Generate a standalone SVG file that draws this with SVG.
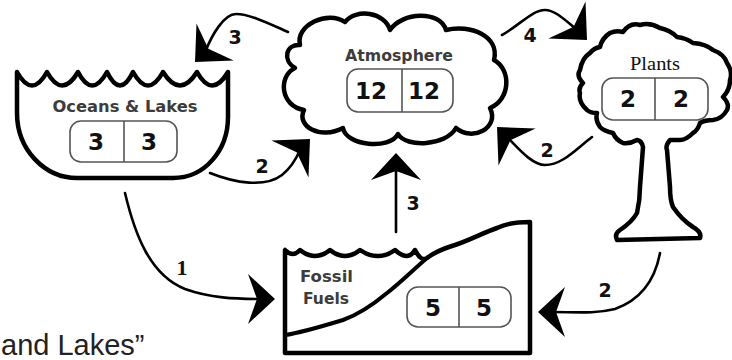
<svg xmlns="http://www.w3.org/2000/svg" width="732" height="360" viewBox="0 0 732 360">
  <style>
    .outline { fill: #fff; stroke: #000; stroke-width: 4.5; stroke-linejoin: round; stroke-linecap: round; }
    .inner { fill: none; stroke: #000; stroke-width: 4; stroke-linecap: round; stroke-linejoin: round; }
    .cell { fill: #fff; stroke: #555; stroke-width: 1.6; }
    .div { stroke: #555; stroke-width: 1.6; }
    .name { font-family: "DejaVu Sans", "Liberation Sans", sans-serif; font-weight: bold; fill: #3c3c3c; }
    .num { font-family: "DejaVu Sans", "Liberation Sans", sans-serif; font-weight: bold; font-size: 23px; fill: #111; text-anchor: middle; }
    .flow { fill: none; stroke: #000; stroke-width: 2.6; stroke-linecap: round; }
    .head { fill: #000; }
    .lbl { font-family: "DejaVu Sans", "Liberation Sans", sans-serif; font-weight: bold; font-size: 19px; fill: #111; text-anchor: middle; }
  </style>
  <defs>
    <path id="arrowhead" d="M0,0 L-27,-25 L-18,0 L-27,25 Z"/>
  </defs>

  <rect width="732" height="360" fill="#fff"/>

  <!-- Oceans & Lakes: a bowl with a wavy water line -->
  <g id="oceans">
    <path class="outline" d="M17,72 L17,113 C17,150 45,178 77,178 L173,178 C205,178 228,150 228,117 L228,72 Q212,99 197,72 Q180,99 163,72 Q148,99 133,72 Q120,99 107,72 Q92,99 78,72 Q62,99 47,72 Q32,99 17,72 Z"/>
    <text class="name" x="125" y="112" font-size="15" text-anchor="middle" textLength="145" lengthAdjust="spacingAndGlyphs">Oceans &amp; Lakes</text>
    <rect class="cell" x="70" y="121" width="107" height="41" rx="11"/>
    <line class="div" x1="124" y1="121" x2="124" y2="162"/>
    <text class="num" x="96" y="150">3</text>
    <text class="num" x="149" y="150">3</text>
  </g>

  <!-- Atmosphere: cloud -->
  <g id="atmosphere">
    <path class="outline" d="M300,45 C295,25 328,10 345,22 C356,8 385,12 390,30 C402,12 440,10 446,30 C470,24 500,36 494,60 C512,70 510,100 490,108 C500,128 472,142 456,128 C446,146 406,148 398,134 C390,150 346,146 343,128 C320,140 296,126 304,110 C280,106 278,76 295,68 C282,60 286,44 300,45 Z"/>
    <text class="name" x="399" y="61" font-size="15" text-anchor="middle" textLength="108" lengthAdjust="spacingAndGlyphs">Atmosphere</text>
    <rect class="cell" x="347" y="69" width="106" height="43" rx="11"/>
    <line class="div" x1="402" y1="69" x2="402" y2="112"/>
    <text class="num" x="371" y="99">12</text>
    <text class="num" x="424" y="99">12</text>
  </g>

  <!-- Plants: tree -->
  <g id="plants">
    <path class="outline" d="M623,32 Q630,22 640,25 Q650,22 660,28 Q670,30 677,37 Q686,38 693,43 Q706,44 713,50 Q724,54 727,63 Q733,72 730,80 Q730,90 723,97 Q730,104 727,110 Q722,119 713,120 Q705,120 700,123 Q698,130 693,133 Q686,140 680,140 L670,140 Q665,146 667,150 L670,187 Q670,200 673,207 Q682,220 693,227 Q702,232 700,238 L617,240 Q614,234 620,230 Q632,222 637,213 Q640,200 640,187 L643,147 Q642,141 637,140 Q630,144 623,143 Q616,140 613,133 Q604,131 600,127 Q595,120 597,113 Q590,113 587,110 Q578,102 580,93 Q578,88 583,83 Q576,76 580,70 Q582,58 590,53 Q594,48 600,47 Q602,38 610,33 Q616,30 623,32 Z"/>
    <text x="655" y="70" font-family="Liberation Serif, serif" font-size="19" fill="#111" text-anchor="middle" textLength="50" lengthAdjust="spacingAndGlyphs">Plants</text>
    <rect class="cell" x="602" y="78" width="106" height="42" rx="11"/>
    <line class="div" x1="655" y1="78" x2="655" y2="120"/>
    <text class="num" x="628" y="107">2</text>
    <text class="num" x="681" y="107">2</text>
  </g>

  <!-- Fossil Fuels: ground section with a buried seam -->
  <g id="fossil">
    <path class="outline" d="M285,250 L285,353 L530,353 L530,222 C515,222 505,224 497,228 C485,232 470,240 455,245 C445,248 435,252 427,258 Q421,262 415,250 Q408,262 395,250 Q378,262 360,250 Q345,262 330,250 Q315,262 300,250 Q293,258 285,250 Z"/>
    <path class="inner" d="M285,335 C300,333 320,327 343,320 C360,314 375,303 387,293 C400,283 413,270 427,258"/>
    <text class="name" x="300" y="282" font-size="15" textLength="53" lengthAdjust="spacingAndGlyphs">Fossil</text>
    <text class="name" x="303" y="304" font-size="15" textLength="46" lengthAdjust="spacingAndGlyphs">Fuels</text>
    <rect class="cell" x="407" y="287" width="104" height="40" rx="11"/>
    <line class="div" x1="459" y1="287" x2="459" y2="327"/>
    <text class="num" x="433" y="316">5</text>
    <text class="num" x="484" y="316">5</text>
  </g>

  <!-- Carbon flows between reservoirs -->
  <g id="connectors">
    <path class="flow" d="M125,193 C135,235 150,275 185,289 C210,298 235,299 262,299"/>
    <use href="#arrowhead" class="head" transform="translate(275,299)"/>
    <text x="182" y="275" font-family="Liberation Serif, serif" font-weight="bold" font-size="22" fill="#111" text-anchor="middle">1</text>

    <path class="flow" d="M210,173 C235,183 265,188 282,175 C292,167 297,157 300,150"/>
    <use href="#arrowhead" class="head" transform="translate(310,139) rotate(-45) scale(1.05)"/>
    <text class="lbl" x="262" y="173">2</text>

    <path class="flow" d="M288,32 C270,24 250,14 236,14 C224,14 212,35 206,50"/>
    <use href="#arrowhead" class="head" transform="translate(195,62) rotate(135) scale(1.05)"/>
    <text class="lbl" x="235" y="44">3</text>

    <path class="flow" d="M502,35 C520,25 532,10 545,10 C555,10 565,20 576,29"/>
    <use href="#arrowhead" class="head" transform="translate(587,40) rotate(45) scale(1.05)"/>
    <text class="lbl" x="530" y="42">4</text>

    <path class="flow" d="M592,137 C575,150 562,165 545,165 C532,165 518,148 508,138"/>
    <use href="#arrowhead" class="head" transform="translate(497,127) rotate(-135) scale(1.05)"/>
    <text class="lbl" x="547" y="157">2</text>

    <path class="flow" d="M396,232 L396,168"/>
    <use href="#arrowhead" class="head" transform="translate(396,153) rotate(-90)"/>
    <text class="lbl" x="413" y="210">3</text>

    <path class="flow" d="M660,253 C655,280 640,300 615,309 C595,314 575,312 553,312"/>
    <use href="#arrowhead" class="head" transform="translate(538,312) rotate(180)"/>
    <text class="lbl" x="605" y="297">2</text>
  </g>

  <text x="1" y="355" font-family="Liberation Sans, Arial, sans-serif" font-size="29" fill="#222">and Lakes”</text>
</svg>
